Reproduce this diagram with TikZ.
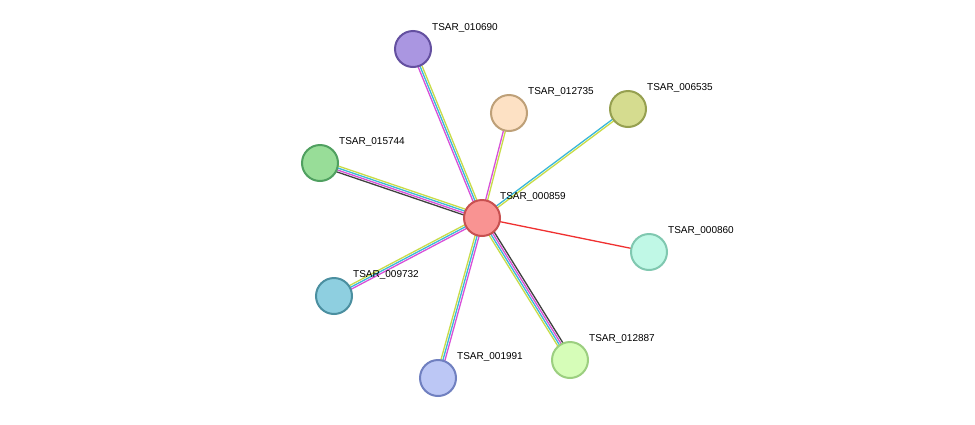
\documentclass[tikz,border=0pt]{standalone}
\usepackage{fontspec}
\setmainfont{Liberation Sans}
\usetikzlibrary{calc}
\definecolor{tm}{HTML}{C8DC48}
\definecolor{db}{HTML}{3AB8D8}
\definecolor{ex}{HTML}{D850D8}
\definecolor{co}{HTML}{404040}
\definecolor{fu}{HTML}{F03030}
\definecolor{f0}{RGB}{249,147,146}\definecolor{d0}{RGB}{200,80,80}
\definecolor{f1}{RGB}{170,150,225}\definecolor{d1}{RGB}{100,80,160}
\definecolor{f2}{RGB}{253,225,196}\definecolor{d2}{RGB}{190,160,120}
\definecolor{f3}{RGB}{213,220,143}\definecolor{d3}{RGB}{150,160,80}
\definecolor{f4}{RGB}{152,221,152}\definecolor{d4}{RGB}{80,160,96}
\definecolor{f5}{RGB}{192,248,230}\definecolor{d5}{RGB}{128,200,176}
\definecolor{f6}{RGB}{142,207,224}\definecolor{d6}{RGB}{75,143,160}
\definecolor{f7}{RGB}{188,199,245}\definecolor{d7}{RGB}{112,128,192}
\definecolor{f8}{RGB}{214,253,184}\definecolor{d8}{RGB}{156,207,128}
\newcommand{\ed}[4]{\draw[#4,line width=1.3pt] ($(#1)!#3pt!90:(#2)$) -- ($(#2)!#3pt!-90:(#1)$);}
\begin{document}
\begin{tikzpicture}[x=1pt,y=-1pt,
  prot/.style={circle,minimum size=36pt,inner sep=0,line width=2pt},
  lab/.style={anchor=west,font=\fontsize{10}{11}\selectfont,inner sep=0}]
\useasboundingbox (0,0) rectangle (975,424);
\fill[white] (0,0) rectangle (975,424);
\coordinate (c) at (482,218);
\coordinate (a1) at (413,49);
\coordinate (a2) at (509,113);
\coordinate (a3) at (628,109);
\coordinate (a4) at (320,163);
\coordinate (a5) at (649,252);
\coordinate (a6) at (334,296);
\coordinate (a7) at (438,378);
\coordinate (a8) at (570,360);
\ed{c}{a1}{-2}{tm}\ed{c}{a1}{0}{db}\ed{c}{a1}{2}{ex}
\ed{c}{a2}{-1}{tm}\ed{c}{a2}{1}{ex}
\ed{c}{a3}{-1}{tm}\ed{c}{a3}{1}{db}
\ed{c}{a4}{-3}{tm}\ed{c}{a4}{-1}{db}\ed{c}{a4}{1}{ex}\ed{c}{a4}{3}{co}
\ed{c}{a5}{0}{fu}
\ed{c}{a6}{-2}{tm}\ed{c}{a6}{0}{db}\ed{c}{a6}{2}{ex}
\ed{c}{a7}{-2}{tm}\ed{c}{a7}{0}{db}\ed{c}{a7}{2}{ex}
\ed{c}{a8}{-3}{tm}\ed{c}{a8}{-1}{db}\ed{c}{a8}{1}{ex}\ed{c}{a8}{3}{co}
\node[prot,fill=f0,draw=d0] (n0) at (c) {};
\node[prot,fill=f1,draw=d1] (n1) at (a1) {};
\node[prot,fill=f2,draw=d2] (n2) at (a2) {};
\node[prot,fill=f3,draw=d3] (n3) at (a3) {};
\node[prot,fill=f4,draw=d4] (n4) at (a4) {};
\node[prot,fill=f5,draw=d5] (n5) at (a5) {};
\node[prot,fill=f6,draw=d6] (n6) at (a6) {};
\node[prot,fill=f7,draw=d7] (n7) at (a7) {};
\node[prot,fill=f8,draw=d8] (n8) at (a8) {};
\node[lab] (l0) at (500,197) {TSAR\_000859};
\node[lab] (l1) at (432,28) {TSAR\_010690};
\node[lab] (l2) at (528,92) {TSAR\_012735};
\node[lab] (l3) at (647,88) {TSAR\_006535};
\node[lab] (l4) at (339,142) {TSAR\_015744};
\node[lab] (l5) at (668,231) {TSAR\_000860};
\node[lab] (l6) at (353,275) {TSAR\_009732};
\node[lab] (l7) at (457,357) {TSAR\_001991};
\node[lab] (l8) at (589,339) {TSAR\_012887};
\end{tikzpicture}
\end{document}
